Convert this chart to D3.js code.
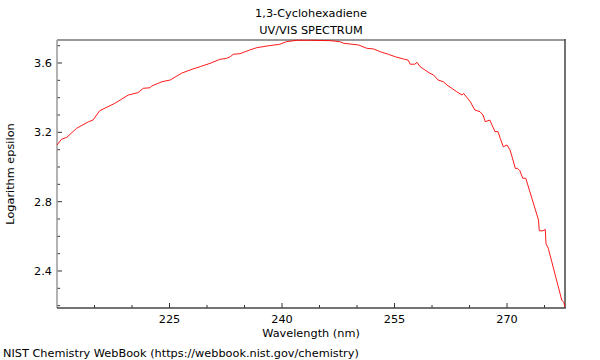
<!DOCTYPE html>
<html>
<head>
<meta charset="utf-8">
<script src="https://cdn.jsdelivr.net/npm/d3@7"></script>
<style>
  body { margin: 0; background: #fff; }
  svg { font-family: "DejaVu Sans", sans-serif; }
</style>
</head>
<body>
<svg id="chart" width="600" height="360"></svg>
<script>
// wavelength (nm) and log epsilon
const wavelength = [210.0, 210.6, 211.3, 212.6, 214.2, 214.8, 215.7, 217.7, 219.5, 220.8, 221.5, 222.4, 222.6, 224.0, 225.1, 226.6,
  228.0, 229.1, 230.4, 231.7, 232.6, 233.1, 233.5, 234.4, 235.7, 236.6, 238.0, 239.7, 240.6, 242.0, 243.7,
  246.4, 247.7, 248.2, 250.2, 251.3, 252.2, 253.1, 254.2, 255.1, 256.2, 256.8, 257.1, 257.7, 258.0, 258.4, 259.7,
  260.2, 260.8, 261.5, 262.0, 263.3, 264.0, 264.2, 265.1, 265.7, 266.4, 266.8, 267.1, 267.7, 268.0, 268.4, 268.8, 269.1, 269.5, 270.0, 270.4,
  270.8, 271.1, 271.4, 271.7, 272.1, 272.5, 274.2, 274.3, 274.8, 275.1, 275.2, 275.5, 277.3, 277.6, 277.7];
const logEps = [3.127, 3.160, 3.171, 3.223, 3.261, 3.271, 3.325, 3.367, 3.415, 3.429, 3.454, 3.457, 3.467, 3.492, 3.502, 3.541,
  3.564, 3.579, 3.598, 3.621, 3.627, 3.636, 3.650, 3.654, 3.675, 3.688, 3.698, 3.708, 3.723, 3.731, 3.731,
  3.729, 3.723, 3.714, 3.704, 3.685, 3.681, 3.665, 3.650, 3.636, 3.623, 3.617, 3.593, 3.593, 3.604, 3.579, 3.541,
  3.531, 3.502, 3.492, 3.473, 3.434, 3.415, 3.425, 3.377, 3.329, 3.319, 3.300, 3.261, 3.271, 3.242, 3.204, 3.204, 3.165, 3.117, 3.127, 3.098,
  3.040, 2.992, 2.992, 2.979, 2.935, 2.935, 2.694, 2.632, 2.632, 2.640, 2.556, 2.531, 2.232, 2.217, 2.194];

const xTicks = [225, 240, 255, 270];
const yTicks = [2.4, 2.8, 3.2, 3.6];

const svg = d3.select('#chart');
const plotL = 57, plotR = 565, plotT = 40, plotB = 308;
const fs = 11.3;

const x = d3.scaleLinear().domain([210, 277.73]).range([plotL, plotR]);
const y = d3.scaleLinear().domain([2.1865, 3.7327]).range([plotB, plotT]);

// titles
svg.append('text').attr('x', 311).attr('y', 17).attr('text-anchor', 'middle')
  .attr('font-size', fs).text('1,3-Cyclohexadiene');
svg.append('text').attr('x', 311).attr('y', 34).attr('text-anchor', 'middle')
  .attr('font-size', fs).text('UV/VIS SPECTRUM');

// x axis ticks (inward)
const xMinor = d3.range(215, 278, 5);
svg.append('g').selectAll('line').data(xMinor).enter().append('line')
  .attr('x1', d => x(d)).attr('x2', d => x(d))
  .attr('y1', plotB).attr('y2', d => xTicks.includes(d) ? plotB - 5 : plotB - 3)
  .attr('stroke', '#333');
svg.append('g').selectAll('text').data(xTicks).enter().append('text')
  .attr('x', d => x(d)).attr('y', 323).attr('text-anchor', 'middle')
  .attr('font-size', fs).text(d => d);

// y axis ticks (inward)
const yMinor = d3.range(22, 38).map(d => d / 10);
svg.append('g').selectAll('line').data(yMinor).enter().append('line')
  .attr('x1', plotL).attr('x2', d => yTicks.some(t => Math.abs(t - d) < 1e-6) ? plotL + 5 : plotL + 3)
  .attr('y1', d => y(d)).attr('y2', d => y(d))
  .attr('stroke', '#333');
svg.append('g').selectAll('text').data(yTicks).enter().append('text')
  .attr('x', 52).attr('y', d => y(d) + 4).attr('text-anchor', 'end')
  .attr('font-size', fs).text(d => d.toFixed(1));

// frame: light top/left, dark right/bottom
svg.append('line').attr('x1', plotL).attr('x2', plotR).attr('y1', plotT).attr('y2', plotT)
  .attr('stroke', '#999').attr('stroke-width', 2);
svg.append('line').attr('x1', plotL).attr('x2', plotL).attr('y1', plotT).attr('y2', plotB)
  .attr('stroke', '#999').attr('stroke-width', 1.5);
svg.append('line').attr('x1', plotR).attr('x2', plotR).attr('y1', plotT - 1).attr('y2', plotB)
  .attr('stroke', '#444').attr('stroke-width', 1.5);
svg.append('line').attr('x1', plotL).attr('x2', plotR + 0.75).attr('y1', plotB).attr('y2', plotB)
  .attr('stroke', '#444').attr('stroke-width', 1.5);

// spectrum line
const data = wavelength.map((w, i) => ({ w: w, v: logEps[i] }));
const line = d3.line().x(d => x(d.w)).y(d => y(d.v));
svg.append('path')
  .datum(data)
  .attr('d', line)
  .attr('fill', 'none')
  .attr('stroke', '#ff0000')
  .attr('stroke-width', 0.9);

// axis labels
svg.append('text').attr('x', 311).attr('y', 337).attr('text-anchor', 'middle')
  .attr('font-size', fs).text('Wavelength (nm)');
svg.append('text').attr('transform', 'translate(14,174) rotate(-90)').attr('text-anchor', 'middle')
  .attr('font-size', fs).text('Logarithm epsilon');

// footer
svg.append('text').attr('x', 3).attr('y', 357).attr('font-size', fs)
  .text('NIST Chemistry WebBook (https://webbook.nist.gov/chemistry)');
</script>
</body>
</html>
